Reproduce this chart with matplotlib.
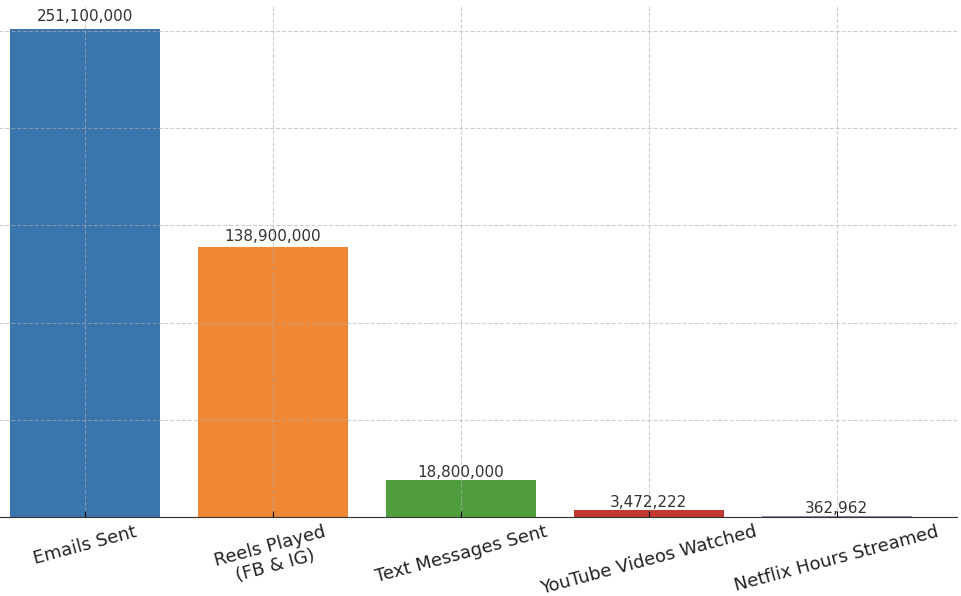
import matplotlib
matplotlib.use("Agg")
import matplotlib.pyplot as plt

categories = ["Emails Sent", "Reels Played\n(FB & IG)", "Text Messages Sent",
              "YouTube Videos Watched", "Netflix Hours Streamed"]
values = [251100000, 138900000, 18800000, 3472222, 362962]
colors = ["#3a75ae", "#ef8735", "#4f9d3d", "#c4392f", "#9a7cbf"]
title = "What Happens on the Internet Every Minute (2024)"

fig = plt.figure(figsize=(9.62, 5.96), dpi=100)
ax = fig.add_axes([-35/962, 79/596, 992/962, 512.5/596])

bars = ax.bar(range(len(categories)), values, color=colors, width=0.8, zorder=1)
ax.grid(True, linestyle="--", color="#b0b0b0", alpha=0.6, linewidth=0.8, zorder=3)
ax.set_axisbelow(False)
for b, v in zip(bars, values):
    ax.text(b.get_x() + b.get_width()/2, v * 1.01, f"{v:,}",
            ha="center", va="bottom", fontsize=11, color="#333333")
ax.set_xticks(range(len(categories)))
ax.set_xticklabels(categories, rotation=15, ha="center", fontsize=13, color="#222222")
ax.tick_params(axis="x", direction="in", length=4, pad=4)
ax.tick_params(axis="y", labelsize=11)
for s in ["top", "right"]:
    ax.spines[s].set_visible(False)
ax.spines["bottom"].set_color("#333333")
ax.spines["bottom"].set_zorder(4)
ax.set_title(title, fontsize=16, color="#444444")

fig.savefig("out.png", dpi=100)
